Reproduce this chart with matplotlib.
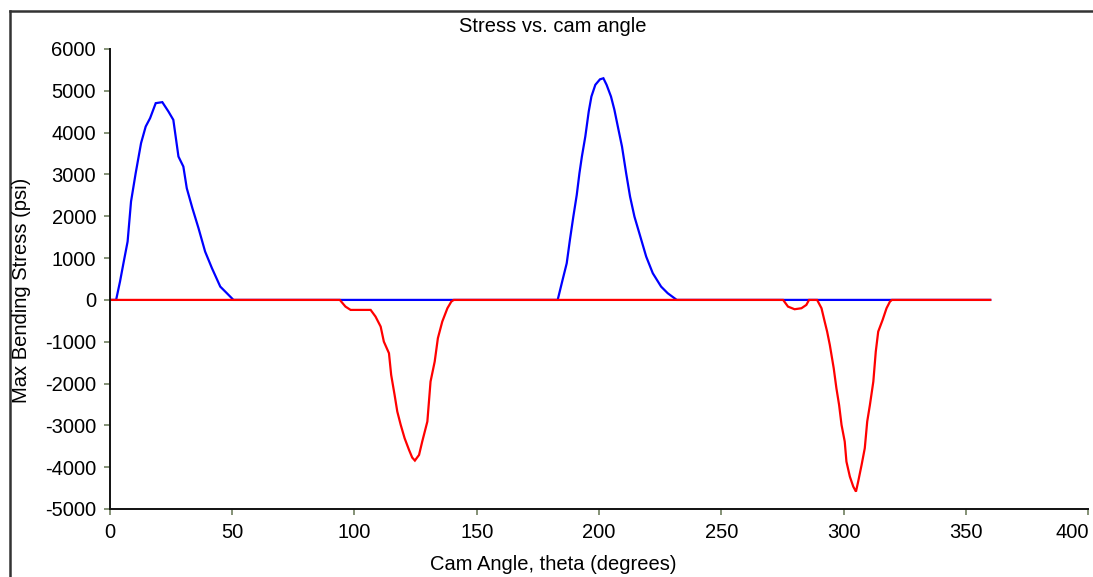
import matplotlib
matplotlib.use("Agg")
import matplotlib.pyplot as plt
from matplotlib.lines import Line2D
from matplotlib.transforms import ScaledTranslation

plt.rcParams['font.family'] = ['Liberation Sans', 'DejaVu Sans']
plt.rcParams['axes.unicode_minus'] = False

# Positive (max) bending stress vs cam angle
blue_theta = [0, 2.5, 4.1, 5.5, 7.2, 8.6, 10.5, 12.7, 14.6, 16.4, 18.7, 21.4, 23.9,
              25.9, 28.0, 30.0, 31.4, 33.7, 36.2, 38.9, 41.7, 45.1, 47.8, 50.5,
              183.1, 185.1, 186.8, 188.1, 189.5, 190.9, 192.0, 193.0, 194.4, 195.8,
              196.9, 198.5, 200.4, 201.8, 203.1, 204.9, 206.3, 207.7, 209.4, 211.1,
              212.7, 214.5, 216.5, 219.3, 222.0, 225.4, 228.1, 231.8, 360]
blue_stress = [0, 0, 440, 877, 1395, 2352, 3030, 3749, 4146, 4346, 4705, 4729, 4505,
               4306, 3428, 3189, 2671, 2193, 1715, 1156, 758, 318, 160, 0,
               0, 478, 877, 1434, 1991, 2510, 3030, 3428, 3907, 4505,
               4864, 5144, 5275, 5300, 5144, 4864, 4545, 4146, 3668, 3030,
               2471, 1991, 1594, 1036, 638, 318, 160, 0, 0]

# Negative (min) bending stress vs cam angle
red_theta = [0, 94.0, 96.3, 98.4, 106.6, 108.6, 110.7, 112.0, 114.1, 115.0, 116.4,
             117.5, 118.9, 120.5, 122.3, 123.6, 124.7, 126.4, 127.7, 129.8, 131.1,
             132.8, 134.1, 135.9, 138.0, 139.6, 140.6,
             275.3, 277.3, 280.0, 282.8, 284.8, 285.9, 289.2, 291.0, 292.3, 293.3,
             294.4, 296.0, 297.1, 298.2, 299.2, 300.5, 301.2, 302.6, 304.0, 305.1,
             306.0, 307.4, 308.7, 309.7, 310.8, 312.2, 313.2, 314.2, 316.0, 317.6,
             319.0, 319.8, 360]
red_stress = [0, 0, -160, -239, -239, -399, -638, -997, -1275, -1794, -2272,
              -2670, -2988, -3308, -3587, -3770, -3842, -3707, -3387, -2908, -1953,
              -1475, -916, -518, -199, -40, 0,
              0, -160, -223, -199, -120, 0, 0, -199, -518, -757,
              -1076, -1634, -2113, -2512, -2990, -3387, -3866, -4225, -4465, -4584,
              -4345, -3946, -3547, -2908, -2512, -1953, -1236, -757, -478, -199,
              -40, 0, 0]

x_ticks = [0, 50, 100, 150, 200, 250, 300, 350, 400]
y_ticks = [-5000, -4000, -3000, -2000, -1000, 0, 1000, 2000, 3000, 4000, 5000, 6000]

W, H = 1093, 577
fig = plt.figure(figsize=(W / 100, H / 100), dpi=100)
ax = fig.add_axes([110 / W, 1 - 509 / H, (1088 - 110) / W, (509 - 49) / H])

ax.plot(blue_theta, blue_stress, color='#0000ff', lw=1.6, solid_joinstyle='miter')
ax.plot(red_theta, red_stress, color='#ff0000', lw=1.6, solid_joinstyle='miter')

ax.set_xlim(0, 400)
ax.set_ylim(-5000, 6000)
ax.set_xticks(x_ticks)
ax.set_yticks(y_ticks)
for side in ('top', 'right'):
    ax.spines[side].set_visible(False)
for side in ('left', 'bottom'):
    ax.spines[side].set_linewidth(1.4)
    ax.spines[side].set_color('#111111')
ax.tick_params(direction='out', length=4, width=1.2, color='#6f7f5f',
               labelsize=14.5, labelcolor='black', pad=6)

# keep the last x tick label inside the chart edge
fig.canvas.draw()
last = ax.get_xticklabels()[-1]
last.set_transform(last.get_transform() + ScaledTranslation(-0.16, 0, fig.dpi_scale_trans))

fig.text(553 / W, 1 - 27 / H, 'Stress vs. cam angle', ha='center', va='center', fontsize=14.5)
fig.text(553 / W, 1 - 565 / H, 'Cam Angle, theta (degrees)', ha='center', va='center', fontsize=14.5)
fig.text(22 / W, 1 - 290 / H, 'Max Bending Stress (psi)', ha='center', va='center',
         rotation=90, fontsize=14.5)

# chart-area frame (left and top edges)
fig.add_artist(Line2D([10 / W, 10 / W], [0, 1 - 11 / H], transform=fig.transFigure,
                      color='#333333', lw=1.8))
fig.add_artist(Line2D([10 / W, 1], [1 - 11 / H, 1 - 11 / H], transform=fig.transFigure,
                      color='#333333', lw=1.8))

fig.savefig('out.png', dpi=100)
